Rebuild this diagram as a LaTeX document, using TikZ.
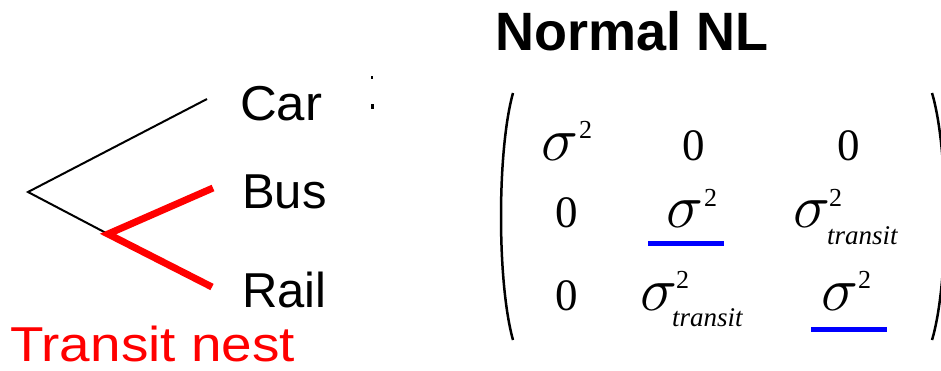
\documentclass[tikz,border=0pt]{standalone}
\usepackage{fontspec}
\setmainfont{Liberation Serif}
\newfontfamily\sansfam{Liberation Sans}
\tikzset{
  lbl/.style={font=\sansfam\fontsize{49}{58}\selectfont, inner sep=0pt, anchor=base west},
  ttl/.style={font=\sansfam\bfseries\fontsize{54}{64}\selectfont, inner sep=0pt, anchor=base west},
  sig/.style={font=\fontsize{20}{24}\selectfont, inner sep=0pt, anchor=base west},
  num/.style={font=\fontsize{45}{52}\selectfont, inner sep=0pt, anchor=base},
  supr/.style={font=\fontsize{26}{30}\selectfont, inner sep=0pt, anchor=base west},
  subt/.style={font=\itshape\fontsize{27}{32}\selectfont, inner sep=0pt, anchor=base west},
  branch/.style={line width=2pt},
  nest/.style={red, line width=7pt},
  uline/.style={blue, line width=5pt},
  paren/.style={line width=2.5pt}
}
\newcommand{\wsig}{\scalebox{3}{$\sigma$}}
\begin{document}
\begin{tikzpicture}[x=1pt,y=-1pt]
\useasboundingbox (0,0) rectangle (941,370);
% tree
\coordinate (root) at (28,192);
\coordinate (carend) at (207,99);
\coordinate (tnest) at (108,234);
\coordinate (busend) at (213,188);
\coordinate (railend) at (212,287);
\draw[branch] (carend) -- (root) -- (tnest);
\draw[nest] (busend) -- (tnest) -- (railend);
\node[lbl] (car) at (240,120) {\scalebox{1.04}[1]{Car}};
\node[lbl] (bus) at (242,208) {Bus};
\node[lbl] (rail) at (242,307) {Rail};
\node[lbl, text=red] (transit) at (10,361) {\scalebox{1.12}[1]{Transit nest}};
% small marks
\fill (371,76) rectangle (372.5,79);
\fill (371,104) rectangle (374,109);
% title
\node[ttl] (title) at (495,50) {Normal NL};
% parentheses
\coordinate (lpt) at (513,93); \coordinate (lpb) at (513,340);
\coordinate (rpt) at (932,93); \coordinate (rpb) at (932,340);
\draw[paren] (lpt) .. controls (497,150) and (497,283) .. (lpb);
\draw[paren] (rpt) .. controls (949,150) and (949,283) .. (rpb);
% row 1
\node[sig] (s11) at (541,160) {\wsig};
\node[supr] (p11) at (579,138) {2};
\node[num] (z12) at (694,160) {0};
\node[num] (z13) at (849,160) {0};
% row 2
\node[num] (z21) at (567,227) {0};
\node[sig] (s22) at (666,227) {\wsig};
\node[supr] (p22) at (704,206) {2};
\node[sig] (s23) at (793,227) {\wsig};
\node[supr] (p23) at (829,206) {2};
\node[subt] (t23) at (827,244) {transit};
% row 3
\node[num] (z31) at (567,310) {0};
\node[sig] (s32) at (640,310) {\wsig};
\node[supr] (p32) at (676,288) {2};
\node[subt] (t32) at (672,326) {transit};
\node[sig] (s33) at (821,310) {\wsig};
\node[supr] (p33) at (858,288) {2};
% underlines
\coordinate (u1a) at (648,243); \coordinate (u1b) at (724,243);
\coordinate (u2a) at (811,329); \coordinate (u2b) at (887,329);
\draw[uline] (u1a) -- (u1b);
\draw[uline] (u2a) -- (u2b);
\end{tikzpicture}
\end{document}
